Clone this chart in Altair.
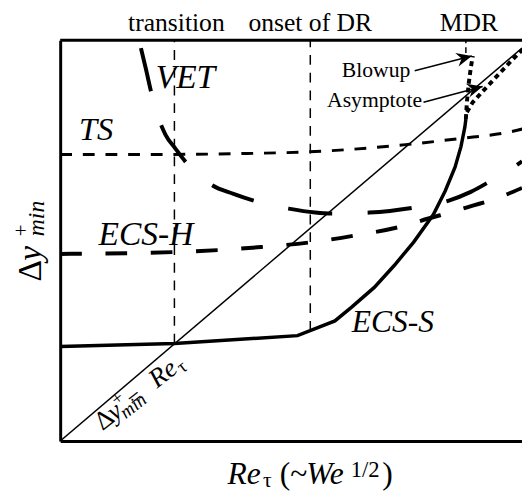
import altair as alt
import pandas as pd

# Schematic frame (arbitrary units, roughly one unit per pixel of the plot area)
X_MAX, Y_MAX = 469, 407

# ---- curves ----
ecs_s_x = [0, 116, 241, 279, 296, 319, 339, 359, 379, 391, 401, 407, 411, 412]
ecs_s_y = [96, 99, 107, 122, 136, 156, 178, 202, 230, 254, 278, 299, 319, 327]

blowup_x = [412, 413, 415, 417, 419]
blowup_y = [327, 344, 364, 379, 391]

asym_x = [413, 419, 429, 444, 459, 470]
asym_y = [334, 344, 355, 371, 387, 398]

ts_x = [0, 89, 189, 259, 351, 404, 457, 470]
ts_y = [291, 291, 292, 294, 301, 307, 314, 317]

ecs_h_x = [0, 119, 204, 256, 301, 347, 374, 399, 419, 439, 469]
ecs_h_y = [190, 192, 197, 202, 209, 218, 226, 233, 239, 245, 257]

vet_x = [82, 87, 92, 97, 102, 107, 117, 127, 139, 154, 176, 197, 232, 259, 277,
         314, 359, 394, 417, 437, 454, 469]
vet_y = [399, 378, 356, 336, 322, 311, 297, 284, 272, 260, 251, 244, 236, 232, 231,
         232, 237, 244, 253, 264, 274, 284]

diag_x = [0, 469]
diag_y = [0, 399]

# vertical regime markers: x, bottom, top
regime_x = [116, 254]
regime_y0 = [99, 112]
mdr_x, mdr_y0 = 412, 394

# arrows: start -> tip
arrow_x0 = [360, 369]
arrow_y0 = [376, 344]
arrow_x1 = [418, 429]
arrow_y1 = [391, 360]
arrow_angle = [346, 345]

# ---- labels ----
top_text = ["transition", "onset of DR", "MDR"]
top_x = [118, 254, 415]
top_y = [416, 416, 416]

curve_text = ["VET", "TS", "ECS-H", "ECS-S"]
curve_x = [97, 19, 39, 296]
curve_y = [359, 306, 199, 111]
curve_size = [34, 33, 34, 32]

note_text = ["Blowup", "Asymptote"]
note_x = [286, 271]
note_y = [370, 339]

# x title pieces
xt_it_text = ["Re", "We"]
xt_it_x = [170, 250]
xt_it_y = [-44, -44]
xt_it_size = [32, 32]
xt_up_text = ["\u03c4", "(~", "1/2", ")"]
xt_up_x = [206, 223, 295, 327]
xt_up_y = [-47, -44, -37, -44]
xt_up_size = [22, 32, 23, 32]

# y title pieces (rotated)
yt_up_text = ["\u0394", "+"]
yt_up_x = [-19, -33]
yt_up_y = [162, 208]
yt_up_size = [34, 21]
yt_it_text = ["y", "min"]
yt_it_x = [-19, -16]
yt_it_y = [183, 208]
yt_it_size = [34, 24]

# diagonal label pieces (rotated along the line)
dl_up_text = ["\u0394", "+", "=", "\u03c4"]
dl_up_x = [43, 57.5, 75.1, 124.3]
dl_up_y = [10, 35.3, 33.8, 68.4]
dl_up_size = [27, 19, 24, 19]
dl_it_text = ["y", "min", "Re"]
dl_it_x = [55.5, 66.6, 98.2]
dl_it_y = [19.8, 22.1, 53.1]
dl_it_size = [27, 19, 27]

FONT = "Liberation Serif"
xs = alt.Scale(domain=[0, X_MAX], nice=False, zero=False)
ys = alt.Scale(domain=[0, Y_MAX], nice=False, zero=False)


def X(f="x"):
    return alt.X(f"{f}:Q", scale=xs, title=None)


def Y(f="y"):
    return alt.Y(f"{f}:Q", scale=ys, title=None)


def curve(xv, yv, **mk):
    df = pd.DataFrame({"x": xv, "y": yv, "i": list(range(len(xv)))})
    return alt.Chart(df).mark_line(color="black", clip=True, **mk).encode(
        x=X(), y=Y(), order="i:Q")


def texts(tv, xv, yv, sv, style="normal", angle=0, align="left"):
    df = pd.DataFrame({"t": tv, "x": xv, "y": yv, "s": sv})
    return alt.Chart(df).mark_text(
        font=FONT, fontStyle=style, angle=angle, align=align,
        baseline="alphabetic", color="black").encode(
        x=X(), y=Y(), text="t:N", size=alt.Size("s:Q", scale=None))


layers = []

# frame top
layers.append(alt.Chart(pd.DataFrame({"a": [0]})).mark_rule(
    color="black", strokeWidth=3).encode(
    x=alt.datum(0, scale=xs), x2=alt.datum(X_MAX), y=alt.datum(Y_MAX, scale=ys)))

# regime dashed verticals
reg = pd.DataFrame({"x": regime_x, "y0": regime_y0, "y1": [Y_MAX] * len(regime_x)})
layers.append(alt.Chart(reg).mark_rule(color="black", strokeWidth=1.5,
                                       strokeDash=[10, 8]).encode(
    x=X(), y=Y("y0"), y2="y1:Q"))
mdr = pd.DataFrame({"x": [mdr_x], "y0": [mdr_y0], "y1": [Y_MAX]})
layers.append(alt.Chart(mdr).mark_rule(color="black", strokeWidth=1.5,
                                       strokeDash=[6, 4]).encode(
    x=X(), y=Y("y0"), y2="y1:Q"))

# diagonal
layers.append(curve(diag_x, diag_y, strokeWidth=1.5))

# curves
layers.append(curve(ts_x, ts_y, strokeWidth=3, strokeDash=[12, 11], interpolate="monotone"))
layers.append(curve(ecs_h_x, ecs_h_y, strokeWidth=4, strokeDash=[22, 24], interpolate="monotone"))
layers.append(curve(vet_x, vet_y, strokeWidth=4, strokeDash=[45, 36], interpolate="monotone"))
layers.append(curve(ecs_s_x, ecs_s_y, strokeWidth=3.5))
layers.append(curve(blowup_x, blowup_y, strokeWidth=4, strokeDash=[5, 4]))
layers.append(curve(asym_x, asym_y, strokeWidth=4, strokeDash=[5, 4]))

# arrows
arr = pd.DataFrame({"x": arrow_x0, "y": arrow_y0, "x2": arrow_x1, "y2": arrow_y1,
                    "a": arrow_angle})
layers.append(alt.Chart(arr).mark_rule(color="black", strokeWidth=1.5).encode(
    x=X(), y=Y(), x2="x2:Q", y2="y2:Q"))
layers.append(alt.Chart(arr).mark_point(
    shape="M0,0L-2.2,-1L-1.5,0L-2.2,1Z", filled=True, color="black",
    opacity=1, size=200).encode(
    x=X("x2"), y=Y("y2"), angle=alt.Angle("a:Q", scale=None)))

# labels
layers.append(texts(top_text, top_x, top_y, [26] * 3, align="center"))
layers.append(texts(curve_text, curve_x, curve_y, curve_size, style="italic"))
layers.append(texts(note_text, note_x, note_y, [22, 22]))
layers.append(texts(xt_it_text, xt_it_x, xt_it_y, xt_it_size, style="italic"))
layers.append(texts(xt_up_text, xt_up_x, xt_up_y, xt_up_size))
layers.append(texts(yt_up_text, yt_up_x, yt_up_y, yt_up_size, angle=270))
layers.append(texts(yt_it_text, yt_it_x, yt_it_y, yt_it_size, style="italic", angle=270))
layers.append(texts(dl_up_text, dl_up_x, dl_up_y, dl_up_size, angle=322))
layers.append(texts(dl_it_text, dl_it_x, dl_it_y, dl_it_size, style="italic", angle=322))

chart = alt.layer(*layers).properties(
    width=X_MAX, height=Y_MAX,
    autosize=alt.AutoSizeParams(type="none"),
    padding={"left": 53, "top": 29, "right": 0, "bottom": 47},
    background="white",
).configure_view(stroke=None).configure_axis(
    labels=False, ticks=False, grid=False, domainColor="black", domainWidth=3,
)

chart.save("out.html", embed_options={"renderer": "svg", "actions": False})
